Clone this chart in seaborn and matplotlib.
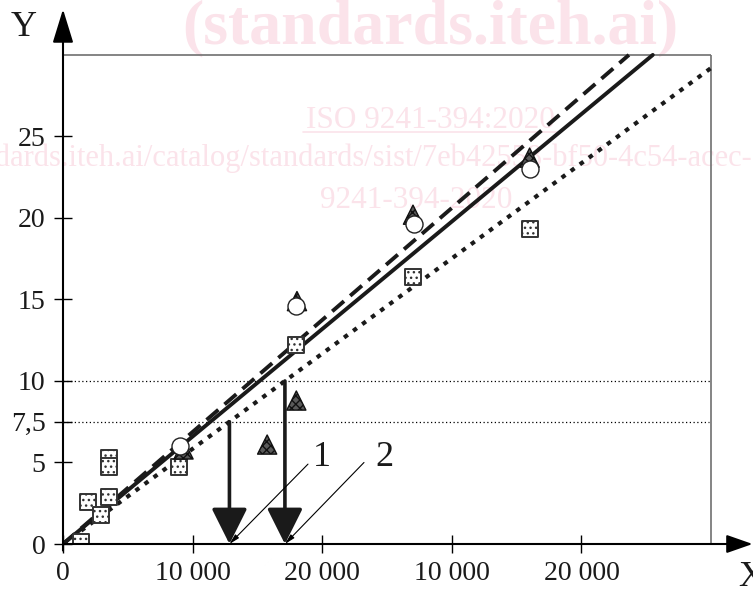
import matplotlib
matplotlib.use("Agg")
import matplotlib.pyplot as plt
from matplotlib.lines import Line2D
import seaborn as sns
import pandas as pd

# ---------------- data ----------------
sq_x = [1400, 1900, 2900, 3550, 3550, 3550, 8950, 17950, 27000, 36000]
sq_y = [0.1, 2.55, 1.8, 2.9, 5.3, 4.75, 4.7, 12.2, 16.4, 19.3]

tri_x = [9300, 15750, 18000, 18050, 27000, 36000]
tri_y = [5.8, 6.1, 8.8, 14.9, 20.2, 23.7]

circ_x = [9000, 18000, 27100, 36000]
circ_y = [6.0, 14.6, 19.6, 23.0]

solid_x = [0, 45500]
solid_y = [0, 30]
dashed_x = [0, 43660]
dashed_y = [0, 30]
dotted_x = [0, 50000]
dotted_y = [0, 29.2]

ref_levels = [7.5, 10]
arrow_x = [12840, 17120]
arrow_top = [7.5, 10]
label_text = ["1", "2"]
label_x = [19980, 24765]
label_y = [5.28, 5.28]
leader_x = [18900, 23220]
leader_y = [4.9, 5.0]

xtick_vals = [0, 10000, 20000, 30000, 40000]
xtick_labels = ["0", "10 000", "20 000", "10 000", "20 000"]
ytick_vals = [0, 5, 7.5, 10, 15, 20, 25]
ytick_labels = ["0", "5", "7,5", "10", "15", "20", "25"]

# ---------------- style ----------------
sns.set_style("white")
plt.rcParams["font.family"] = ["Liberation Serif", "DejaVu Serif"]
plt.rcParams["hatch.color"] = "black"
plt.rcParams["hatch.linewidth"] = 1.0

W, H = 753, 590
fig = plt.figure(figsize=(W / 100, H / 100), dpi=100)
ax = fig.add_axes([63 / W, 46 / H, 689.6 / W, 538 / H])
ax.set_xlim(0, 53200)
ax.set_ylim(0, 33.0)
ax.patch.set_alpha(0)
for s in ax.spines.values():
    s.set_visible(False)

# ---------------- watermark ----------------
pink = "#fbe3ea"
fig.text(430 / W, 1 - 43 / H, "(standards.iteh.ai)", fontsize=46, fontweight="bold",
         color=pink, ha="center", va="baseline", zorder=-1)
fig.text(430 / W, 1 - 128 / H, "ISO 9241-394:2020", fontsize=22.5, color=pink,
         ha="center", va="baseline", zorder=-1)
fig.add_artist(Line2D([303 / W, 557 / W], [1 - 132 / H, 1 - 132 / H], color=pink, lw=1.2, zorder=-1))
fig.text(752 / W, 1 - 166 / H,
         "https://standards.iteh.ai/catalog/standards/sist/7eb42558-bf50-4c54-acec-",
         fontsize=22, color=pink, ha="right", va="baseline", zorder=-1)
fig.text(416 / W, 1 - 208 / H, "9241-394-2020", fontsize=22.5, color=pink,
         ha="center", va="baseline", zorder=-1)

# ---------------- frame ----------------
ax.hlines(30, 0, 50000, color="#707070", lw=1.2, zorder=1)
ax.vlines(50000, 0, 30, color="#707070", lw=1.2, zorder=1)
ax.hlines(ref_levels, 0, [49800, 50000], color="black", lw=0.9,
          linestyles=[(0, (1, 2))], zorder=1)

# axes with arrows
ax.annotate("", xy=(53200, 0), xytext=(0, 0),
            arrowprops=dict(arrowstyle="-|>,head_length=1.0,head_width=0.35", lw=1.5,
                            color="black", shrinkA=0, shrinkB=0, mutation_scale=16),
            annotation_clip=False, zorder=5)
ax.annotate("", xy=(0, 32.8), xytext=(0, -0.4),
            arrowprops=dict(arrowstyle="-|>,head_length=1.3,head_width=0.4", lw=1.5,
                            color="black", shrinkA=0, shrinkB=0, mutation_scale=16),
            annotation_clip=False, zorder=5)

# ---------------- lines ----------------
lines = pd.DataFrame({
    "x": solid_x + dashed_x + dotted_x,
    "y": solid_y + dashed_y + dotted_y,
    "fit": ["solid"] * 2 + ["dashed"] * 2 + ["dotted"] * 2,
})
sns.lineplot(data=lines[lines.fit == "solid"], x="x", y="y", ax=ax, color="#1a1a1a",
             lw=2.8, legend=False, zorder=3)
sns.lineplot(data=lines[lines.fit == "dashed"], x="x", y="y", ax=ax, color="#1a1a1a",
             lw=2.8, legend=False, zorder=3, dashes=False, linestyle=(0, (4.0, 2.1)))
sns.lineplot(data=lines[lines.fit == "dotted"], x="x", y="y", ax=ax, color="#1a1a1a",
             lw=3.0, legend=False, zorder=3, linestyle=(0, (1.1, 1.6)))

# ---------------- points ----------------
sns.scatterplot(x=sq_x, y=sq_y, ax=ax, marker="s", s=135, facecolor="white",
                edgecolor="#333333", linewidth=1.4, hatch="...", zorder=4, legend=False)
sns.scatterplot(x=tri_x, y=tri_y, ax=ax, marker="^", s=190, facecolor="#5a5a5a",
                edgecolor="#111111", linewidth=1.0, hatch="xxxx", zorder=4, legend=False)
sns.scatterplot(x=circ_x, y=circ_y, ax=ax, marker="o", s=150, facecolor="white",
                edgecolor="#222222", linewidth=1.0, zorder=4.5, legend=False)

# ---------------- arrows & labels ----------------
for xa, yt in zip(arrow_x, arrow_top):
    ax.annotate("", xy=(xa, 0), xytext=(xa, yt),
                arrowprops=dict(arrowstyle="-|>,head_length=1.1,head_width=0.55", lw=2.6,
                                color="#1a1a1a", shrinkA=0, shrinkB=0, mutation_scale=20),
                zorder=6)
for t, lx, ly, sx, sy, xa in zip(label_text, label_x, label_y, leader_x, leader_y, arrow_x):
    ax.text(lx, ly, t, fontsize=26, ha="center", va="center", color="#1a1a1a", zorder=6)
    ax.annotate("", xy=(xa, 0), xytext=(sx, sy),
                arrowprops=dict(arrowstyle="-|>,head_length=0.6,head_width=0.15", lw=0.8,
                                color="black", shrinkA=0, shrinkB=0, mutation_scale=10),
                zorder=6)

# ---------------- ticks ----------------
ax.set_xticks(xtick_vals)
ax.set_xticklabels(xtick_labels)
ax.set_yticks(ytick_vals)
ax.set_yticklabels(ytick_labels)
ax.tick_params(axis="both", direction="inout", length=13, width=1.0, color="black",
               labelsize=20, labelcolor="#1a1a1a", bottom=True, left=True)
ax.tick_params(axis="x", pad=6)
ax.tick_params(axis="y", pad=6)
ax.set_xlabel("")
ax.set_ylabel("")

fig.text(24 / W, 1 - 28 / H, "Y", fontsize=26, ha="center", va="center", color="#1a1a1a")
fig.text(738 / W, 1 - 578 / H, "X", fontsize=26, ha="left", va="center", color="#1a1a1a")

fig.savefig("out.png", dpi=100)
